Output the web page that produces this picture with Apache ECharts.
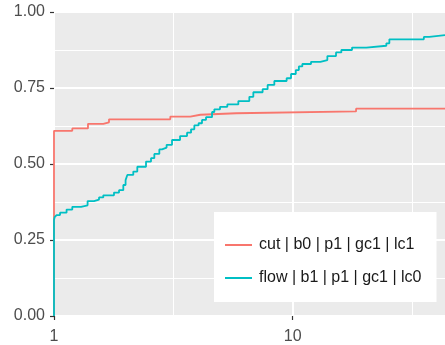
<!DOCTYPE html>
<html>
<head>
<meta charset="utf-8">
<script src="https://cdn.jsdelivr.net/npm/echarts@6/dist/echarts.min.js"></script>
<style>
  html, body { margin: 0; padding: 0; background: #ffffff; }
  #chart { width: 445px; height: 345px; }
</style>
</head>
<body>
<div id="chart"></div>
<script>
// Empirical CDFs of the two configurations (x on a log10 scale)
const seriesNames = ['cut | b0 | p1 | gc1 | lc1', 'flow | b1 | p1 | gc1 | lc0'];
const seriesColors = ['#F8766D', '#00BFC4'];

const cutX = [1, 1, 1.193, 1.388, 1.609, 1.700, 3.072, 3.726, 4.104, 5.792, 18.44, 43.5];
const cutY = [0, 0.609, 0.617, 0.632, 0.637, 0.647, 0.656, 0.662, 0.667, 0.673, 0.682, 0.682];

const flowX = [1, 1, 1.006, 1.025, 1.060, 1.129, 1.193, 1.299, 1.383, 1.471, 1.544, 1.609,
  1.784, 1.873, 1.952, 1.995, 2.029, 2.149, 2.234, 2.430, 2.550, 2.633, 2.763, 2.836,
  2.964, 3.123, 3.375, 3.610, 3.752, 3.873, 4.036, 4.171, 4.335, 4.595, 4.698, 4.963,
  5.325, 5.922, 6.585, 6.844, 7.486, 7.857, 8.381, 9.438, 9.847, 10.31, 10.62, 10.98,
  11.94, 13.07, 13.98, 15.20, 16.00, 17.74, 20.37, 24.70, 25.43, 35.47, 37.41, 43.5];
const flowY = [0, 0.316, 0.325, 0.332, 0.340, 0.350, 0.359, 0.364, 0.378, 0.383, 0.390, 0.397,
  0.406, 0.414, 0.431, 0.447, 0.464, 0.475, 0.491, 0.508, 0.519, 0.533, 0.548, 0.554,
  0.563, 0.579, 0.592, 0.603, 0.614, 0.627, 0.634, 0.645, 0.654, 0.671, 0.680, 0.688,
  0.696, 0.707, 0.721, 0.736, 0.746, 0.760, 0.773, 0.782, 0.796, 0.809, 0.821, 0.829,
  0.836, 0.842, 0.855, 0.867, 0.875, 0.883, 0.889, 0.897, 0.910, 0.918, 0.924, 0.924];

const xMin = 1, xMax = 43.5;
const xTickLabels = [1, 10];

const zip = (xs, ys) => xs.map((x, i) => [x, ys[i]]);

const FONT = 'Liberation Sans, Arial, Helvetica, sans-serif';
const chart = echarts.init(document.getElementById('chart'), null, { renderer: 'canvas' });

// hidden axis line so that the small dark tick marks still get drawn
const hiddenAxisLine = { show: true, lineStyle: { color: 'rgba(0,0,0,0)', width: 0 } };

chart.setOption({
  animation: false,
  backgroundColor: '#ffffff',
  grid: { left: 54, right: 0, top: 12, bottom: 28, show: true, backgroundColor: '#EBEBEB', borderWidth: 0 },
  xAxis: [
    {
      type: 'log', logBase: 10, min: xMin, max: xMax,
      axisLine: hiddenAxisLine,
      axisTick: { show: true, length: 4, lineStyle: { color: '#333333', width: 1.2 },
        customValues: xTickLabels },
      axisLabel: { color: '#4D4D4D', fontSize: 16, fontFamily: FONT, margin: 13,
        customValues: xTickLabels, formatter: v => String(Math.round(v)) },
      splitLine: { show: true, lineStyle: { color: '#ffffff', width: 2 } }
    },
    {
      // log10 guide axis: half-decade minor grid lines
      type: 'value', min: 0, max: Math.log10(xMax), interval: 0.5,
      position: 'bottom', show: true,
      axisLine: { show: false }, axisTick: { show: false }, axisLabel: { show: false },
      splitLine: { show: true, lineStyle: { color: '#ffffff', width: 1 } }
    }
  ],
  yAxis: {
    type: 'value', min: 0, max: 1, interval: 0.25,
    axisLine: hiddenAxisLine,
    axisTick: { show: true, length: 4, lineStyle: { color: '#333333', width: 1.2 } },
    axisLabel: { color: '#4D4D4D', fontSize: 16, fontFamily: FONT, margin: 9,
      formatter: v => v.toFixed(2) },
    splitLine: { show: true, lineStyle: { color: '#ffffff', width: 2 } },
    minorTick: { show: false, splitNumber: 2 },
    minorSplitLine: { show: true, lineStyle: { color: '#ffffff', width: 1 } }
  },
  legend: {
    orient: 'vertical',
    left: 214, top: 212,
    backgroundColor: '#ffffff',
    padding: [24, 15, 15, 11],
    itemGap: 15,
    itemWidth: 27, itemHeight: 2,
    icon: 'rect',
    textStyle: { color: '#1A1A1A', fontSize: 16, fontFamily: FONT, lineHeight: 18, padding: [0, 0, 0, 2] },
    data: seriesNames
  },
  series: [
    {
      name: seriesNames[0], type: 'line', step: 'end', xAxisIndex: 0,
      data: zip(cutX, cutY), showSymbol: false, clip: false,
      lineStyle: { color: seriesColors[0], width: 1.8 }, itemStyle: { color: seriesColors[0] }
    },
    {
      name: seriesNames[1], type: 'line', step: 'end', xAxisIndex: 0,
      data: zip(flowX, flowY), showSymbol: false, clip: false,
      lineStyle: { color: seriesColors[1], width: 1.8 }, itemStyle: { color: seriesColors[1] }
    }
  ]
});
</script>
</body>
</html>
